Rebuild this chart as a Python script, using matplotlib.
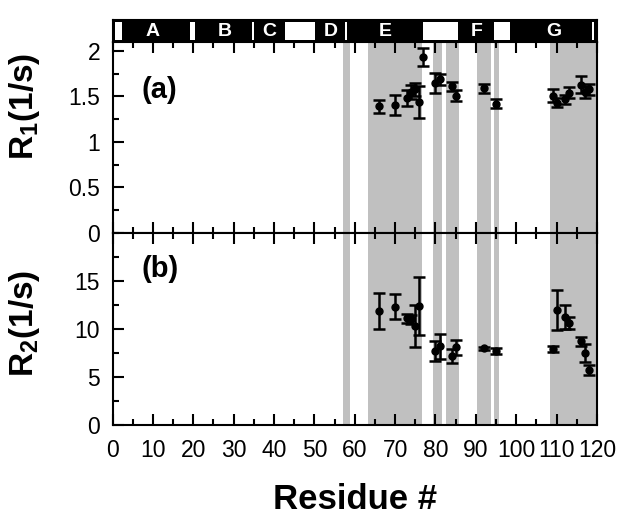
import matplotlib
matplotlib.use("Agg")
import matplotlib.pyplot as plt
from matplotlib.ticker import MultipleLocator

plt.rcParams['font.family'] = ['Liberation Sans', 'DejaVu Sans']
plt.rcParams['mathtext.fontset'] = 'custom'
plt.rcParams['mathtext.rm'] = 'Liberation Sans'
plt.rcParams['mathtext.bf'] = 'Liberation Sans:bold'

# grey shaded residue ranges (start, end)
shade_start = [57.2, 63.3, 79.4, 82.5, 90.3, 94.5, 108.4]
shade_end = [58.7, 76.7, 81.7, 85.8, 93.8, 95.7, 120.0]

# secondary-structure bar: white gaps between black segments
gap_start = [0.6, 19.2, 34.6, 42.8, 57.5, 76.8, 94.4, 118.8]
gap_end = [2.3, 20.4, 35.1, 50.2, 58.0, 85.5, 98.4, 119.3]
seg_labels = ['A', 'B', 'C', 'D', 'E', 'F', 'G']
seg_pos = [10, 27.8, 38.8, 54, 67.6, 90.2, 109.3]

# panel (a) R1
res_a = [66, 70, 73, 74, 75, 76, 77, 80, 81, 84, 85, 92, 95, 109, 110, 112, 113, 116, 117, 118]
r1 = [1.39, 1.41, 1.48, 1.55, 1.58, 1.44, 1.93, 1.65, 1.69, 1.61, 1.51, 1.59, 1.42,
      1.51, 1.43, 1.47, 1.54, 1.63, 1.55, 1.58]
r1_err = [0.07, 0.11, 0.09, 0.08, 0.07, 0.18, 0.10, 0.11, 0.06, 0.05, 0.06, 0.05, 0.05,
          0.07, 0.05, 0.05, 0.06, 0.09, 0.07, 0.06]

# panel (b) R2
res_b = [66, 70, 73, 74, 75, 76, 80, 81, 84, 85, 92, 95, 109, 110, 112, 113, 116, 117, 118]
r2 = [11.9, 12.3, 11.1, 11.0, 10.3, 12.4, 7.7, 8.2, 7.2, 8.1, 8.0, 7.7,
      7.9, 12.0, 11.2, 10.6, 8.7, 7.5, 5.7]
r2_err = [1.9, 1.3, 0.5, 0.5, 2.2, 3.0, 1.0, 1.3, 0.7, 0.8, 0.15, 0.3,
          0.3, 2.1, 1.25, 0.6, 0.5, 0.9, 0.5]

fig = plt.figure(figsize=(6.29, 5.23), dpi=100)
ax_bar = fig.add_axes([0.179, 0.920, 0.770, 0.0415])
ax_a = fig.add_axes([0.179, 0.5545, 0.770, 0.3655])
ax_b = fig.add_axes([0.179, 0.1874, 0.770, 0.3671])

# top bar
ax_bar.set_xlim(0, 120)
ax_bar.set_ylim(0, 1)
ax_bar.set_facecolor('black')
for s, e in zip(gap_start, gap_end):
    ax_bar.axvspan(s, e, ymin=0.1, ymax=0.9, color='white', lw=0)
for lab, p in zip(seg_labels, seg_pos):
    ax_bar.text(p, 0.46, lab, color='white', fontsize=14, fontweight='bold',
                ha='center', va='center')
ax_bar.set_xticks([])
ax_bar.set_yticks([])
for sp in ax_bar.spines.values():
    sp.set_linewidth(1.5)

for ax in (ax_a, ax_b):
    ax.set_xlim(0, 120)
    for s, e in zip(shade_start, shade_end):
        ax.axvspan(s, e, color='#c0c0c0', lw=0, zorder=0)
    ax.xaxis.set_major_locator(MultipleLocator(10))
    ax.xaxis.set_minor_locator(MultipleLocator(5))
    ax.tick_params(which='both', direction='in', top=True, right=False, width=1.5,
                   labelsize=16.5)
    ax.tick_params(which='major', length=8)
    ax.tick_params(which='minor', length=4)
    ax.tick_params(axis='y', pad=9)
    ax.tick_params(axis='x', pad=10)
    for sp in ax.spines.values():
        sp.set_linewidth(1.5)

ax_a.errorbar(res_a, r1, yerr=r1_err, fmt='o', color='black', ms=5, elinewidth=1.8,
              capsize=4, capthick=1.8, zorder=3)
ax_a.set_ylim(0, 2.1)
ax_a.set_yticks([0, 0.5, 1, 1.5, 2])
ax_a.set_yticklabels(['0', '0.5', '1', '1.5', '2'])
ax_a.yaxis.set_minor_locator(MultipleLocator(0.25))
ax_a.tick_params(labelbottom=False)
ax_a.set_ylabel(r'R$_{\mathbf{1}}$(1/s)', fontsize=24, fontweight='bold')
ax_a.yaxis.set_label_coords(-0.145, 0.665)
ax_a.text(0.06, 0.75, '(a)', transform=ax_a.transAxes, fontsize=21, fontweight='bold',
          va='center')

ax_b.errorbar(res_b, r2, yerr=r2_err, fmt='o', color='black', ms=5, elinewidth=1.8,
              capsize=4, capthick=1.8, zorder=3)
ax_b.set_ylim(0, 20)
ax_b.set_yticks([0, 5, 10, 15])
ax_b.yaxis.set_minor_locator(MultipleLocator(2.5))
ax_b.set_ylabel(r'R$_{\mathbf{2}}$(1/s)', fontsize=24, fontweight='bold')
ax_b.yaxis.set_label_coords(-0.145, 0.53)
ax_b.text(0.06, 0.81, '(b)', transform=ax_b.transAxes, fontsize=21, fontweight='bold',
          va='center')
ax_b.set_xlabel('Residue #', fontsize=25, fontweight='bold')
ax_b.xaxis.set_label_coords(0.5, -0.30)

fig.savefig('out.png', dpi=100)
